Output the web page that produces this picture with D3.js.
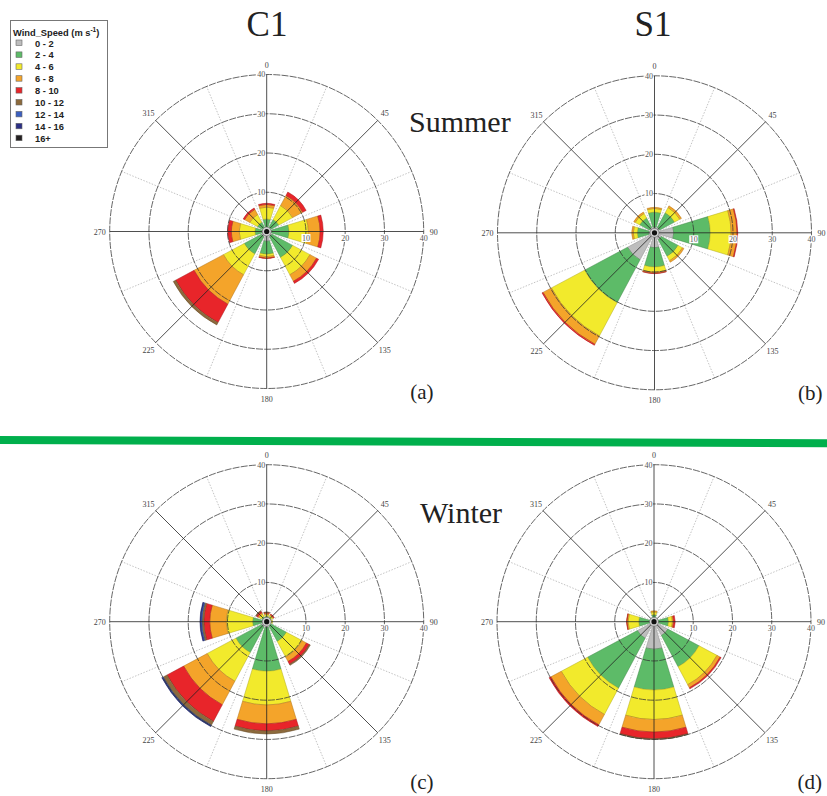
<!DOCTYPE html>
<html><head><meta charset="utf-8">
<script src="https://cdn.jsdelivr.net/npm/d3@7"></script>
<style>body{margin:0;background:#fff} svg{display:block}</style>
</head><body>
<svg id="chart" width="827" height="796"></svg>
<script>
// ---------- data ----------
const directions = [0, 45, 90, 135, 180, 225, 270, 315];
const speedClasses = ["0 - 2","2 - 4","4 - 6","6 - 8","8 - 10","10 - 12","12 - 14","14 - 16","16+"];
const classColors = ["#BDBDBD","#5DBB68","#F2EA2C","#F4A42A","#E8252A","#8C6A3C","#3B5FC0","#2B2F85","#231F20"];
const ringTicks = [10, 20, 30, 40];
const dirTicks = [0, 45, 90, 135, 180, 225, 270, 315];
const columnTitles = ["C1", "S1"];
const seasonTitles = ["Summer", "Winter"];
const panelLabels = ["(a)", "(b)", "(c)", "(d)"];

// frequency (%) of each speed class, per direction (N, NE, E, SE, S, SW, W, NW)
const C1_summer = [
  [1.0, 2.2, 3.0, 0.7, 0.3],
  [1.0, 2.5, 4.0, 2.9, 1.0],
  [1.3, 4.4, 4.9, 3.0, 0.8],
  [1.5, 6.0, 5.0, 1.9, 0.6],
  [2.5, 3.3, 0.6, 0.4, 0.1],
  [1.5, 5.0, 6.0, 8.5, 5.3, 0.7],
  [1.0, 2.0, 4.0, 2.0, 0.9],
  [1.0, 1.7, 2.2, 1.5, 0.4]
];
const S1_summer = [
  [1.5, 3.8, 0.9, 0.3],
  [1.5, 4.3, 1.5, 0.5],
  [4.9, 9.3, 5.3, 1.5, 0.2],
  [2.0, 4.8, 1.3, 0.4],
  [3.8, 4.9, 1.3, 0.3, 0.1],
  [7.8, 12.4, 9.6, 2.4, 0.3],
  [1.5, 2.9, 1.0, 0.4],
  [1.5, 2.8, 1.3, 0.4]
];
const C1_winter = [
  [0.8, 0.6, 0.5, 0.3, 0.2, 0.1],
  [0.8, 0.5, 0.5, 0.2, 0.2],
  [0.8, 0.4, 0.3],
  [1.0, 4.7, 4.5, 1.3, 0.8, 0.3],
  [1.5, 11.1, 8.6, 4.8, 1.8, 0.8],
  [1.5, 7.4, 8.3, 6.8, 4.8, 1.1, 0.25, 0.15],
  [1.0, 2.6, 6.7, 4.2, 1.5, 0.5, 0.3, 0.2],
  [0.8, 0.7, 0.7, 0.4, 0.4, 0.2]
];
const S1_winter = [
  [1.0, 0.8, 0.7, 0.3],
  [0.8, 0.3],
  [1.0, 2.7, 1.0, 0.3, 0.4],
  [4.0, 9.0, 5.2, 0.9, 0.3],
  [7.0, 10.4, 7.5, 3.2, 1.7, 0.2],
  [4.8, 14.4, 7.6, 3.0, 0.5],
  [1.0, 2.9, 2.7, 0.3, 0.1],
  [0.8, 0.3]
];

// ---------- layout ----------
const svg = d3.select("#chart");
const W = 827, H = 796;
svg.append("rect").attr("width", W).attr("height", H).attr("fill", "#fff");

const R = 157;
const rScale = d3.scaleLinear().domain([0, 40]).range([0, R]);
const halfWidth = 45 * 0.75 / 2;
const rad = d => d * Math.PI / 180;
const serif = "'Liberation Serif','Times New Roman',serif";
const sans = "'Liberation Sans',Arial,sans-serif";

const panels = [
  { cx: 266.7, cy: 231.5, data: C1_summer, label: panelLabels[0] },
  { cx: 654.5, cy: 232.8, data: S1_summer, label: panelLabels[1] },
  { cx: 266.7, cy: 621.7, data: C1_winter, label: panelLabels[2] },
  { cx: 654.0, cy: 621.7, data: S1_winter, label: panelLabels[3] }
];

const arc = d3.arc();

function drawPanel(p) {
  const g = svg.append("g").attr("transform", `translate(${p.cx},${p.cy})`);

  // dotted secondary spokes
  g.selectAll("line.minor").data(dirTicks.map(d => d + 22.5)).join("line")
    .attr("x1", 0).attr("y1", 0)
    .attr("x2", d => rScale(40) * Math.sin(rad(d)))
    .attr("y2", d => -rScale(40) * Math.cos(rad(d)))
    .attr("stroke", "#9a9a9a").attr("stroke-width", 0.6)
    .attr("stroke-dasharray", "1.5,1.5");

  // stacked bars
  const segs = [];
  p.data.forEach((vals, i) => {
    let cum = 0;
    vals.forEach((v, k) => {
      if (v > 0) segs.push({ dir: directions[i], k, inner: cum, outer: cum + v });
      cum += v;
    });
  });
  g.selectAll("path.seg").data(segs).join("path")
    .attr("d", s => arc({
      innerRadius: rScale(s.inner), outerRadius: rScale(s.outer),
      startAngle: rad(s.dir - halfWidth), endAngle: rad(s.dir + halfWidth)
    }))
    .attr("fill", s => classColors[s.k])
    .attr("stroke", s => d3.color(classColors[s.k]).darker(0.9))
    .attr("stroke-width", 0.5);

  // rings
  g.selectAll("circle.ring").data(ringTicks).join("circle")
    .attr("r", d => rScale(d)).attr("fill", "none")
    .attr("stroke", "#333").attr("stroke-width", 0.75)
    .attr("stroke-dasharray", "7,1.2");

  // main spokes
  g.selectAll("line.major").data(dirTicks).join("line")
    .attr("x1", 0).attr("y1", 0)
    .attr("x2", d => rScale(40) * Math.sin(rad(d)))
    .attr("y2", d => -rScale(40) * Math.cos(rad(d)))
    .attr("stroke", "#222").attr("stroke-width", 0.8);

  // calm circle
  g.append("circle").attr("r", 4.5).attr("fill", "#d0d0d0").attr("stroke", "#555").attr("stroke-width", 0.5);
  g.append("circle").attr("r", 2.6).attr("fill", "#111");

  // ring labels on north axis
  ringTicks.forEach(v => {
    const t = g.append("text").attr("x", -1.5).attr("y", -rScale(v) + 2.8)
      .attr("text-anchor", "end").attr("font-family", serif).attr("font-size", 8)
      .attr("fill", "#555").text(v);
    const b = t.node().getBBox();
    g.insert("rect", () => t.node()).attr("x", b.x - 0.5).attr("y", b.y + 0.5)
      .attr("width", b.width + 1).attr("height", b.height - 1).attr("fill", "#fff");
  });
  // ring labels on east axis
  ringTicks.forEach(v => {
    const t = g.append("text").attr("x", rScale(v)).attr("y", 9)
      .attr("text-anchor", "middle").attr("font-family", serif).attr("font-size", 8)
      .attr("fill", "#555").text(v);
    const b = t.node().getBBox();
    g.insert("rect", () => t.node()).attr("x", b.x - 0.5).attr("y", b.y + 0.5)
      .attr("width", b.width + 1).attr("height", b.height - 1).attr("fill", "#fff");
  });

  // direction labels
  g.selectAll("text.dir").data(dirTicks).join("text")
    .attr("x", d => 167 * Math.sin(rad(d)))
    .attr("y", d => -167 * Math.cos(rad(d)) + 3)
    .attr("text-anchor", "middle").attr("font-family", serif).attr("font-size", 8)
    .attr("fill", "#444").text(d => d);

  // panel label
  svg.append("text").attr("x", p.cx + 143.5).attr("y", p.cy + 167.5)
    .attr("font-family", serif).attr("font-size", 21).attr("fill", "#222").text(p.label);
}
panels.forEach(drawPanel);

// column titles
svg.append("text").attr("x", 267).attr("y", 36).attr("text-anchor", "middle")
  .attr("font-family", serif).attr("font-size", 35).attr("fill", "#222").text(columnTitles[0]);
svg.append("text").attr("x", 653).attr("y", 36).attr("text-anchor", "middle")
  .attr("font-family", serif).attr("font-size", 35).attr("fill", "#222").text(columnTitles[1]);
// season titles
svg.append("text").attr("x", 409).attr("y", 132)
  .attr("font-family", serif).attr("font-size", 30).attr("fill", "#222").text(seasonTitles[0]);
svg.append("text").attr("x", 420).attr("y", 523)
  .attr("font-family", serif).attr("font-size", 30).attr("fill", "#222").text(seasonTitles[1]);

// separator
svg.append("line").attr("x1", 0).attr("y1", 440).attr("x2", W).attr("y2", 443.3)
  .attr("stroke", "#00AF4C").attr("stroke-width", 8);

// legend
const lg = svg.append("g");
lg.append("rect").attr("x", 10.5).attr("y", 20.5).attr("width", 97).attr("height", 127)
  .attr("fill", "#fff").attr("stroke", "#777").attr("stroke-width", 1);
const lt = lg.append("text").attr("x", 13).attr("y", 36)
  .attr("font-family", sans).attr("font-weight", "bold").attr("font-size", 9.3).attr("fill", "#222");
lt.append("tspan").text("Wind_Speed (m s");
lt.append("tspan").attr("dy", -4).attr("font-size", 6.5).text("-1");
lt.append("tspan").attr("dy", 4).text(")");
speedClasses.forEach((c, i) => {
  const y = 46.5 + i * 11.9;
  lg.append("rect").attr("x", 16).attr("y", y - 6.5).attr("width", 6).attr("height", 5.5)
    .attr("fill", classColors[i]).attr("stroke", "#666").attr("stroke-width", 0.6);
  lg.append("text").attr("x", 35).attr("y", y)
    .attr("font-family", sans).attr("font-weight", "bold").attr("font-size", 9.3)
    .attr("fill", "#222").text(c);
});
</script>
</body></html>
